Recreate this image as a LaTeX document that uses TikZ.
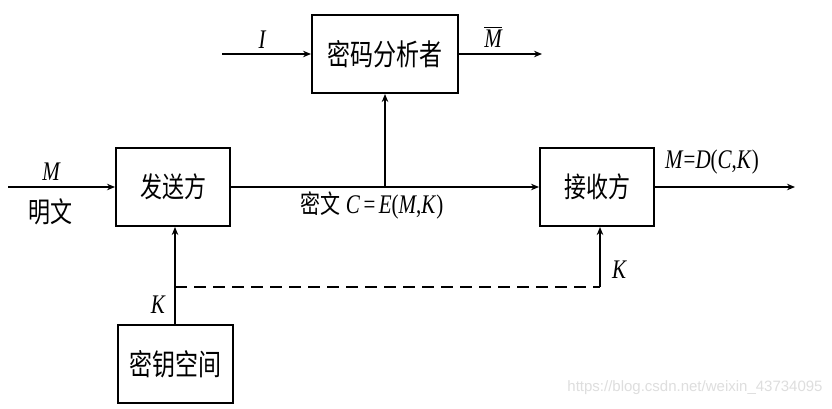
\documentclass[tikz,border=0pt]{standalone}
\usepackage{fontspec}
\setmainfont{Liberation Serif}
\newfontfamily\cjk{Noto Sans CJK SC}
\newfontfamily\wmfont{Liberation Sans}
\usetikzlibrary{arrows.meta}
\newcommand\vstretch[1]{\scalebox{1}[1.28]{#1}}
\begin{document}
\begin{tikzpicture}[x=1pt,y=-1pt,
  box/.style={draw,line width=2pt,minimum width=#1,minimum height=78pt,inner sep=0pt,font=\cjk\fontsize{22}{22}\selectfont},
  conn/.style={line width=1.3pt,-{Stealth[length=8pt,width=6.5pt]}},
  lbl/.style={font=\fontsize{21}{21}\selectfont\itshape,inner sep=0pt},
  cjklbl/.style={font=\cjk\fontsize{22}{22}\selectfont,inner sep=0pt},
  mlbl/.style={font=\fontsize{21}{21}\selectfont,inner sep=0pt}]
\useasboundingbox (0,0) rectangle (832,408);
\fill[white] (0,0) rectangle (832,408);
% boxes
\node[box=146pt,font=\cjk\fontsize{23}{23}\selectfont] (crypt) at (385,54) {\vstretch{密码分析者}};
\node[box=114pt] (sender) at (173,187) {\vstretch{发送方}};
\node[box=114pt] (recv) at (597,187) {\vstretch{接收方}};
\node[box=115pt,font=\cjk\fontsize{23}{23}\selectfont] (key) at (175,364) {\vstretch{密钥空间}};
% free ends
\coordinate (min) at (8,187);
\coordinate (tap) at (385,187);
\coordinate (mout) at (795,187);
\coordinate (iin) at (222,54);
\coordinate (mbar) at (542,54);
\coordinate (kj) at (175,287);
\coordinate (kr) at (600,287);
% connectors
\draw[conn] (min) -- (sender.west);
\draw[conn] (sender.east) -- (sender.east -| recv.west);
\draw[conn] (tap) -- (crypt.south);
\draw[conn] (recv.east |- mout) -- (mout);
\draw[conn] (iin) -- (crypt.west);
\draw[conn] (crypt.east) -- (mbar);
\draw[conn] (key.north) -- (key.north |- sender.south);
\draw[line width=1.3pt,dash pattern=on 12pt off 7pt] (kj) -- (kr);
\draw[conn] (kr) -- (kr |- recv.south);
% labels
\node[lbl] (lI) at (262,40) {\vstretch{I}};
\node[lbl] (lMbar) at (493,37) {\vstretch{$\overline{\mbox{\itshape M}}$}};
\node[lbl] (lM) at (51,172) {\vstretch{M}};
\node[cjklbl] (lmw) at (50,212) {\vstretch{明文}};
\node[mlbl] (lC) at (372,205) {\vstretch{{\cjk\fontsize{20}{20}\selectfont 密文} \textit{C}\,=\,\textit{E}(\textit{M},\textit{K})}};
\node[mlbl] (lD) at (712,162) {\vstretch{\textit{M}=\textit{D}(\textit{C},\textit{K})}};
\node[lbl] (lK1) at (158,305) {\vstretch{K}};
\node[lbl] (lK2) at (619,270) {\vstretch{K}};
\node[font=\wmfont\fontsize{15}{15}\selectfont,text=black!13,inner sep=0pt] (wm) at (695,388) {https://blog.csdn.net/weixin\_43734095};
\end{tikzpicture}
\end{document}
